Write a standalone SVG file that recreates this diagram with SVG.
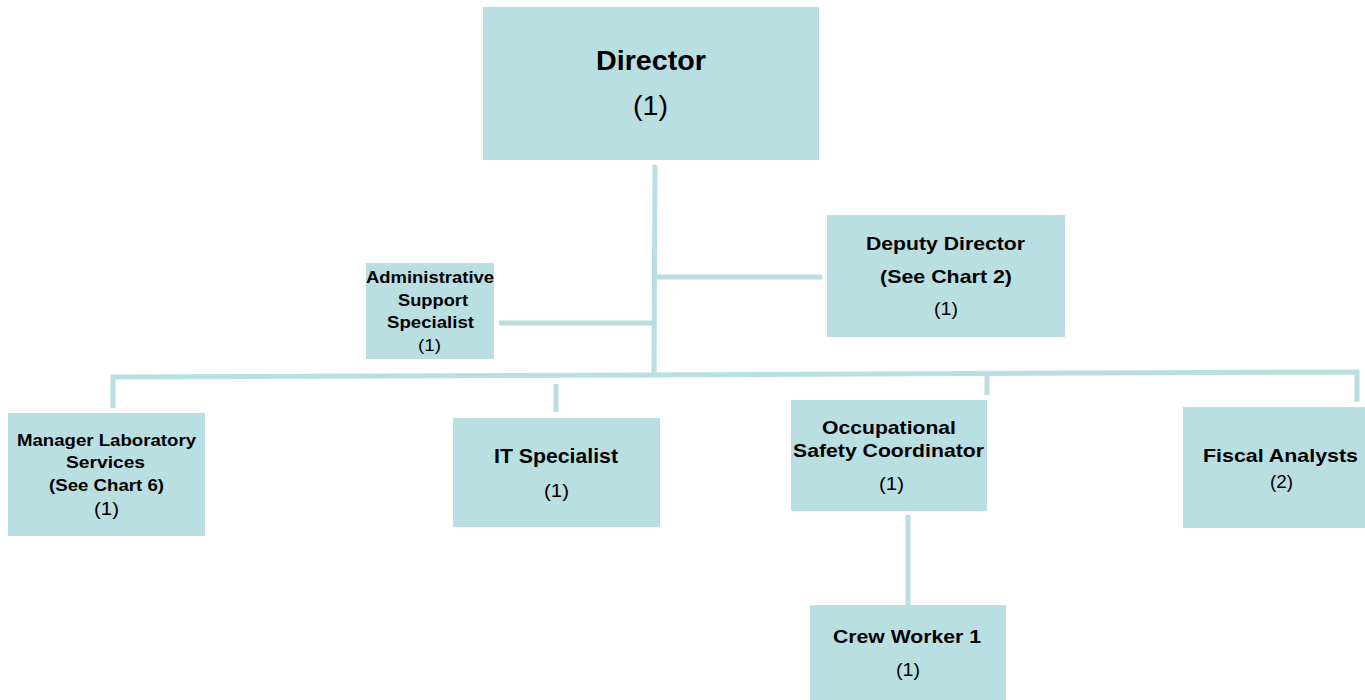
<svg xmlns="http://www.w3.org/2000/svg" width="1365" height="700" viewBox="0 0 1365 700">
<style>
.box{fill:#B9DFE2;}
.ln{stroke:#B9DFE2;stroke-width:5;fill:none;}
text{font-family:"Liberation Sans",Arial,sans-serif;fill:#000;text-anchor:middle;}
.b{font-weight:bold;}
</style>
<rect width="1365" height="700" fill="#fff"/>
<g id="connectors">
<line class="ln" x1="655" y1="165" x2="654" y2="376"/>
<line class="ln" x1="657" y1="277" x2="822" y2="277"/>
<line class="ln" x1="499" y1="323" x2="652" y2="323"/>
<polyline class="ln" points="113,408 113,377 1357,372 1357,402"/>
<line class="ln" x1="556" y1="384" x2="556" y2="412"/>
<line class="ln" x1="987" y1="374" x2="987" y2="395"/>
<line class="ln" x1="908" y1="515" x2="908" y2="606"/>
</g>
<g id="director">
<rect class="box" x="483" y="7" width="336" height="153"/>
<text class="b" x="651" y="70" font-size="27" textLength="110" lengthAdjust="spacingAndGlyphs">Director</text>
<text x="650.5" y="115" font-size="28" textLength="35" lengthAdjust="spacingAndGlyphs">(1)</text>
</g>
<g id="deputy">
<rect class="box" x="827" y="215" width="238" height="122"/>
<text class="b" x="945.5" y="250" font-size="19" textLength="159" lengthAdjust="spacingAndGlyphs">Deputy Director</text>
<text class="b" x="946" y="283" font-size="19" textLength="132" lengthAdjust="spacingAndGlyphs">(See Chart 2)</text>
<text x="946" y="315" font-size="18" textLength="24" lengthAdjust="spacingAndGlyphs">(1)</text>
</g>
<g id="admin">
<rect class="box" x="366" y="263" width="128" height="96"/>
<text class="b" x="430" y="283" font-size="16" textLength="128" lengthAdjust="spacingAndGlyphs">Administrative</text>
<text class="b" x="433" y="306" font-size="16" textLength="70" lengthAdjust="spacingAndGlyphs">Support</text>
<text class="b" x="430.5" y="328" font-size="16" textLength="87" lengthAdjust="spacingAndGlyphs">Specialist</text>
<text x="429.5" y="351" font-size="16" textLength="23" lengthAdjust="spacingAndGlyphs">(1)</text>
</g>
<g id="manager">
<rect class="box" x="8" y="413" width="197" height="123"/>
<text class="b" x="106.5" y="446" font-size="17" textLength="179" lengthAdjust="spacingAndGlyphs">Manager Laboratory</text>
<text class="b" x="105.5" y="468" font-size="17" textLength="79" lengthAdjust="spacingAndGlyphs">Services</text>
<text class="b" x="106.5" y="491" font-size="17" textLength="115" lengthAdjust="spacingAndGlyphs">(See Chart 6)</text>
<text x="106.5" y="515" font-size="18" textLength="25" lengthAdjust="spacingAndGlyphs">(1)</text>
</g>
<g id="it">
<rect class="box" x="453" y="418" width="207" height="109"/>
<text class="b" x="556" y="463" font-size="20" textLength="124" lengthAdjust="spacingAndGlyphs">IT Specialist</text>
<text x="556.5" y="497" font-size="18" textLength="25" lengthAdjust="spacingAndGlyphs">(1)</text>
</g>
<g id="occupational">
<rect class="box" x="791" y="400" width="196" height="111"/>
<text class="b" x="889" y="434" font-size="19" textLength="134" lengthAdjust="spacingAndGlyphs">Occupational</text>
<text class="b" x="888.5" y="457" font-size="19" textLength="191" lengthAdjust="spacingAndGlyphs">Safety Coordinator</text>
<text x="891.5" y="490" font-size="18" textLength="25" lengthAdjust="spacingAndGlyphs">(1)</text>
</g>
<g id="fiscal">
<rect class="box" x="1183" y="407" width="182" height="121"/>
<text class="b" x="1280.5" y="462" font-size="19" textLength="155" lengthAdjust="spacingAndGlyphs">Fiscal Analysts</text>
<text x="1281.5" y="488" font-size="18" textLength="23" lengthAdjust="spacingAndGlyphs">(2)</text>
</g>
<g id="crew">
<rect class="box" x="810" y="605" width="196" height="95"/>
<text class="b" x="907" y="643" font-size="19" textLength="148" lengthAdjust="spacingAndGlyphs">Crew Worker 1</text>
<text x="908" y="676" font-size="18" textLength="24" lengthAdjust="spacingAndGlyphs">(1)</text>
</g>
</svg>
